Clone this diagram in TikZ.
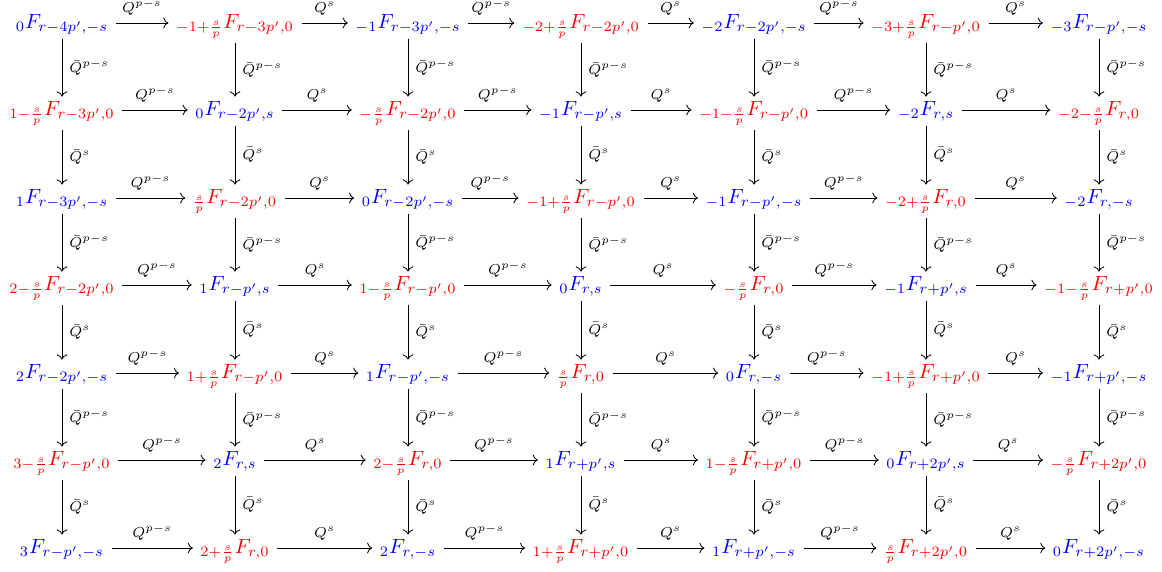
\documentclass[tikz,border=0pt]{standalone}
\usepackage{amsmath,amssymb}
\usepackage{tikz}
\usepackage{xcolor}
\usetikzlibrary{cd}

\begin{document}
\begin{tikzpicture}[x=0.01706cm,y=-0.01706cm,
  fnode/.style={shape=asymmetrical rectangle,inner xsep=3.5pt,inner ysep=2pt},
  bluef/.style={fnode,text=blue}, redf/.style={fnode,text=red},
  lab/.style={font=\scriptsize}]
  \useasboundingbox (0,0) rectangle (1162,572);
  \node[bluef] (f00) at (62,23) {${}_0F_{r-4p',-s}$}; \node[redf] (f01) at (235,23) {${}_{-1+\frac{s}{p}}F_{r-3p',0}$}; \node[bluef] (f02) at (408,23) {${}_{-1}F_{r-3p',-s}$};
  \node[redf] (f03) at (581,23) {${}_{-2+\frac{s}{p}}F_{r-2p',0}$}; \node[bluef] (f04) at (754,23) {${}_{-2}F_{r-2p',-s}$}; \node[redf] (f05) at (926,23) {${}_{-3+\frac{s}{p}}F_{r-p',0}$}; \node[bluef] (f06) at (1099,23) {${}_{-3}F_{r-p',-s}$};
  \node[redf] (f10) at (62,110) {${}_{1-\frac{s}{p}}F_{r-3p',0}$}; \node[bluef] (f11) at (235,110) {${}_0F_{r-2p',s}$}; \node[redf] (f12) at (408,110) {${}_{-\frac{s}{p}}F_{r-2p',0}$};
  \node[bluef] (f13) at (581,110) {${}_{-1}F_{r-p',s}$}; \node[redf] (f14) at (754,110) {${}_{-1-\frac{s}{p}}F_{r-p',0}$}; \node[bluef] (f15) at (926,110) {${}_{-2}F_{r,s}$}; \node[redf] (f16) at (1099,110) {${}_{-2-\frac{s}{p}}F_{r,0}$};
  \node[bluef] (f20) at (62,198) {${}_1F_{r-3p',-s}$}; \node[redf] (f21) at (235,198) {${}_{\frac{s}{p}}F_{r-2p',0}$}; \node[bluef] (f22) at (408,198) {${}_0F_{r-2p',-s}$};
  \node[redf] (f23) at (581,198) {${}_{-1+\frac{s}{p}}F_{r-p',0}$}; \node[bluef] (f24) at (754,198) {${}_{-1}F_{r-p',-s}$}; \node[redf] (f25) at (926,198) {${}_{-2+\frac{s}{p}}F_{r,0}$}; \node[bluef] (f26) at (1099,198) {${}_{-2}F_{r,-s}$};
  \node[redf] (f30) at (62,285) {${}_{2-\frac{s}{p}}F_{r-2p',0}$}; \node[bluef] (f31) at (235,285) {${}_1F_{r-p',s}$}; \node[redf] (f32) at (408,285) {${}_{1-\frac{s}{p}}F_{r-p',0}$};
  \node[bluef] (f33) at (581,285) {${}_0F_{r,s}$}; \node[redf] (f34) at (754,285) {${}_{-\frac{s}{p}}F_{r,0}$}; \node[bluef] (f35) at (926,285) {${}_{-1}F_{r+p',s}$}; \node[redf] (f36) at (1099,285) {${}_{-1-\frac{s}{p}}F_{r+p',0}$};
  \node[bluef] (f40) at (62,373) {${}_2F_{r-2p',-s}$}; \node[redf] (f41) at (235,373) {${}_{1+\frac{s}{p}}F_{r-p',0}$}; \node[bluef] (f42) at (408,373) {${}_1F_{r-p',-s}$};
  \node[redf] (f43) at (581,373) {${}_{\frac{s}{p}}F_{r,0}$}; \node[bluef] (f44) at (754,373) {${}_0F_{r,-s}$}; \node[redf] (f45) at (926,373) {${}_{-1+\frac{s}{p}}F_{r+p',0}$}; \node[bluef] (f46) at (1099,373) {${}_{-1}F_{r+p',-s}$};
  \node[redf] (f50) at (62,460) {${}_{3-\frac{s}{p}}F_{r-p',0}$}; \node[bluef] (f51) at (235,460) {${}_2F_{r,s}$}; \node[redf] (f52) at (408,460) {${}_{2-\frac{s}{p}}F_{r,0}$};
  \node[bluef] (f53) at (581,460) {${}_1F_{r+p',s}$}; \node[redf] (f54) at (754,460) {${}_{1-\frac{s}{p}}F_{r+p',0}$}; \node[bluef] (f55) at (926,460) {${}_0F_{r+2p',s}$}; \node[redf] (f56) at (1099,460) {${}_{-\frac{s}{p}}F_{r+2p',0}$};
  \node[bluef] (f60) at (62,548) {${}_3F_{r-p',-s}$}; \node[redf] (f61) at (235,548) {${}_{2+\frac{s}{p}}F_{r,0}$}; \node[bluef] (f62) at (408,548) {${}_2F_{r,-s}$};
  \node[redf] (f63) at (581,548) {${}_{1+\frac{s}{p}}F_{r+p',0}$}; \node[bluef] (f64) at (754,548) {${}_1F_{r+p',-s}$}; \node[redf] (f65) at (926,548) {${}_{\frac{s}{p}}F_{r+2p',0}$}; \node[bluef] (f66) at (1099,548) {${}_0F_{r+2p',-s}$};
  \foreach \i in {0,...,6} \foreach \j/\k in {0/1,2/3,4/5} \draw[->] (f\i\j) -- node[above,lab]{$Q^{p-s}$} (f\i\k);
  \foreach \i in {0,...,6} \foreach \j/\k in {1/2,3/4,5/6} \draw[->] (f\i\j) -- node[above,lab]{$Q^s$} (f\i\k);
  \foreach \j in {0,...,6} \foreach \i/\k in {0/1,2/3,4/5} \draw[->] (f\i\j) -- node[right,lab]{$\bar{Q}^{p-s}$} (f\k\j);
  \foreach \j in {0,...,6} \foreach \i/\k in {1/2,3/4,5/6} \draw[->] (f\i\j) -- node[right,lab]{$\bar{Q}^s$} (f\k\j);
\end{tikzpicture}
\end{document}
